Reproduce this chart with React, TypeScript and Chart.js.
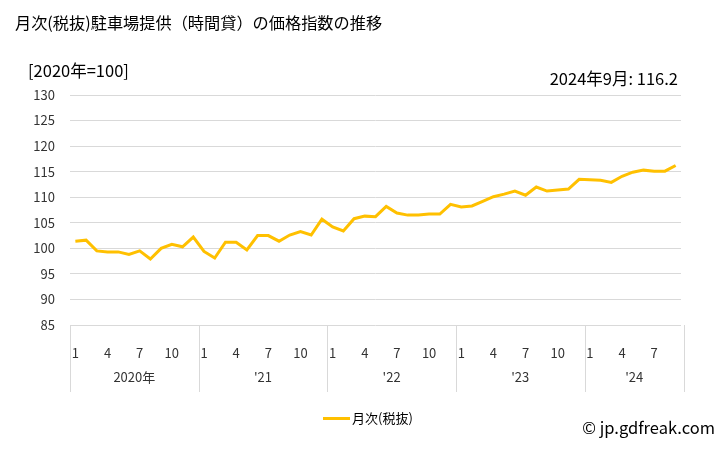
import React, { useEffect, useRef } from "react";
import { Chart, registerables } from "chart.js";

Chart.register(...registerables);

const years = [2020, 2021, 2022, 2023, 2024];
const yearLabels = ["2020年", "'21", "'22", "'23", "'24"];
const monthsPerYear = [12, 12, 12, 12, 9];
const tickMonths = [1, 4, 7, 10];

const values = [
  101.4, 101.6, 99.5, 99.3, 99.3, 98.8, 99.5, 97.9, 100.0, 100.8, 100.3, 102.2,
  99.4, 98.1, 101.2, 101.2, 99.7, 102.5, 102.5, 101.4, 102.6, 103.3, 102.6, 105.7,
  104.2, 103.4, 105.8, 106.3, 106.2, 108.2, 106.9, 106.5, 106.5, 106.7, 106.7, 108.6,
  108.1, 108.3, 109.2, 110.1, 110.6, 111.2, 110.4, 112.0, 111.2, 111.4, 111.6, 113.5,
  113.4, 113.3, 112.9, 114.1, 114.9, 115.3, 115.1, 115.1, 116.2,
];

const yTicks = { min: 85, max: 130, step: 5 };

const categories: string[] = [];
const monthOf: number[] = [];
years.forEach((y, yi) => {
  for (let m = 1; m <= monthsPerYear[yi]; m++) {
    categories.push(`${y}-${m}`);
    monthOf.push(m);
  }
});

const FONT = "'Noto Sans CJK JP', 'Noto Sans', sans-serif";
const LINE = "#FFC000";
const GRID = "#d9d9d9";
const TEXT = "#333";

const yearPlugin = {
  id: "yearRow",
  afterDraw(chart: any) {
    const ctx = chart.ctx;
    const xs = chart.scales.x;
    const area = chart.chartArea;
    const bottom = area.bottom;
    const sepBottom = bottom + 67;
    const bounds: number[] = [area.left];
    let idx = 0;
    monthsPerYear.forEach((n, yi) => {
      idx += n;
      if (yi < monthsPerYear.length - 1) {
        bounds.push((xs.getPixelForValue(idx - 1) + xs.getPixelForValue(idx)) / 2);
      }
    });
    bounds.push(area.right + 3);
    ctx.save();
    ctx.strokeStyle = GRID;
    ctx.lineWidth = 1;
    bounds.forEach((b) => {
      const x = Math.round(b) + 0.5;
      ctx.beginPath();
      ctx.moveTo(x, bottom);
      ctx.lineTo(x, sepBottom);
      ctx.stroke();
    });
    ctx.fillStyle = TEXT;
    ctx.font = `13px ${FONT}`;
    ctx.textAlign = "center";
    ctx.textBaseline = "middle";
    yearLabels.forEach((lab, i) => {
      ctx.fillText(lab, (bounds[i] + bounds[i + 1]) / 2, bottom + 52);
    });
    ctx.restore();
  },
};

export default function App() {
  const ref = useRef<HTMLCanvasElement>(null);
  useEffect(() => {
    if (!ref.current) return;
    const chart = new Chart(ref.current, {
      type: "line",
      data: {
        labels: categories,
        datasets: [
          {
            label: "月次(税抜)",
            data: values,
            borderColor: LINE,
            backgroundColor: LINE,
            borderWidth: 3,
            pointRadius: 0,
            tension: 0,
          },
        ],
      },
      options: {
        animation: false,
        responsive: false,
        maintainAspectRatio: false,
        layout: { padding: { left: 0, right: 47, top: 95, bottom: 58 } },
        plugins: { legend: { display: false }, tooltip: { enabled: false }, title: { display: false } },
        scales: {
          x: {
            type: "category",
            offset: true,
            grid: { display: false },
            border: { display: false },
            ticks: {
              autoSkip: false,
              maxRotation: 0,
              minRotation: 0,
              padding: 12,
              color: TEXT,
              font: { family: FONT, size: 13 },
              callback: (_v: any, i: number) => (tickMonths.includes(monthOf[i]) ? String(monthOf[i]) : ""),
            },
            afterFit: (s: any) => {
              s.height = 67;
            },
          },
          y: {
            min: yTicks.min,
            max: yTicks.max,
            grid: { color: GRID, drawTicks: false, lineWidth: 1 },
            border: { display: false },
            ticks: {
              stepSize: yTicks.step,
              padding: 15,
              color: TEXT,
              font: { family: FONT, size: 13 },
            },
            afterFit: (s: any) => {
              s.width = 70;
            },
          },
        },
      },
      plugins: [yearPlugin],
    });
    return () => chart.destroy();
  }, []);

  const abs: React.CSSProperties = { position: "absolute", whiteSpace: "nowrap", fontFamily: FONT, color: "#000" };
  return (
    <div style={{ position: "absolute", left: 0, top: 0, width: 728, height: 450, background: "#fff" }}>
      <canvas ref={ref} width={728} height={450} style={{ position: "absolute", left: 0, top: 0 }} />
      <div style={{ ...abs, left: 15, top: 10, fontSize: 16.2, lineHeight: "24px" }}>
        月次(税抜)駐車場提供（時間貸）の価格指数の推移
      </div>
      <div style={{ ...abs, left: 28, top: 58, fontSize: 16.5, lineHeight: "24px" }}>[2020年=100]</div>
      <div style={{ ...abs, right: 50, top: 66, fontSize: 16.5, lineHeight: "24px" }}>2024年9月: 116.2</div>
      <div style={{ ...abs, left: 323, top: 408, fontSize: 13, lineHeight: "20px", display: "flex", alignItems: "center" }}>
        <span style={{ display: "inline-block", width: 27, height: 3, background: LINE, marginRight: 2 }} />
        <span>月次(税抜)</span>
      </div>
      <div style={{ ...abs, right: 13, top: 415, fontSize: 16.5, lineHeight: "24px" }}>© jp.gdfreak.com</div>
    </div>
  );
}
